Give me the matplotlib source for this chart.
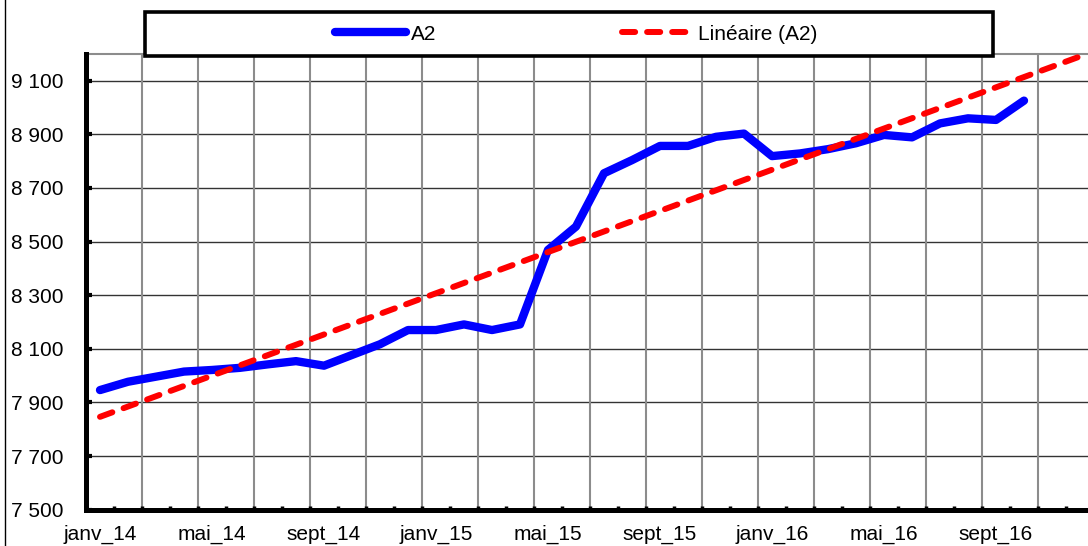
import numpy as np
import matplotlib.pyplot as plt
from matplotlib.lines import Line2D
from matplotlib.patches import Rectangle
from matplotlib.ticker import FuncFormatter

plt.rcParams['font.family'] = ['Liberation Sans', 'DejaVu Sans']

# Monthly values, janv_14 .. oct_16
mois = ['janv', 'févr', 'mars', 'avr', 'mai', 'juin',
        'juil', 'août', 'sept', 'oct', 'nov', 'déc']
annees = ['14', '15', '16']
categories = [m + '_' + a for a in annees for m in mois][:34]

a2 = [7946, 7977, 7996, 8015, 8021, 8029, 8042, 8054, 8037, 8077,
      8117, 8170, 8170, 8191, 8170, 8191, 8469, 8556, 8755, 8804,
      8857, 8857, 8891, 8903, 8819, 8829, 8845, 8867, 8898, 8889,
      8941, 8960, 8954, 9026]

x = np.arange(len(a2))

# Linear trend, projected two periods ahead
pente, origine = np.polyfit(x, a2, 1)
x_tend = np.arange(len(a2) + 2)
tendance = origine + pente * x_tend

W, H = 1088, 546
fig = plt.figure(figsize=(W / 100, H / 100), dpi=100)
ax = fig.add_axes([86 / W, (H - 509.6) / H, 1008 / W, (509.6 - 54) / H])

l_a2, = ax.plot(x, a2, color='#0000FF', lw=6, solid_capstyle='round',
                solid_joinstyle='round', label='A2', zorder=4)
l_tend, = ax.plot(x_tend, tendance, color='#FF0000', lw=4.3, dashes=(2.2, 2.0),
                  dash_capstyle='round', label='Linéaire (A2)', zorder=5)

ax.set_xlim(-0.5, 35.5)
ax.set_ylim(7500, 9200)

# y axis
ax.set_yticks(np.arange(7500, 9101, 200))
ax.yaxis.set_major_formatter(FuncFormatter(lambda v, p: f'{int(v):,}'.replace(',', ' ')))
ax.tick_params(axis='y', direction='in', length=4, width=3, pad=16,
               labelsize=15, colors='black')

# x axis: labels every 4 months, tick marks between months
ax.set_xticks(x[::4])
ax.set_xticklabels(categories[::4])
ax.set_xticks(np.arange(0.5, 35.5, 1), minor=True)
ax.tick_params(axis='x', which='major', length=0, pad=11, labelsize=15)
ax.tick_params(axis='x', which='minor', direction='in', length=3, width=2.5)

# grid
for v in np.arange(7700, 9101, 200):
    ax.axhline(v, color='#333333', lw=1.0, zorder=1)
for b in np.arange(1.5, 36, 2):
    ax.axvline(b, color='#8c8c8c', lw=1.5, zorder=1)

for s in ['left', 'bottom']:
    ax.spines[s].set_linewidth(3.6)
    ax.spines[s].set_color('black')
    ax.spines[s].set_zorder(6)
ax.spines['top'].set_color('#8c8c8c')
ax.spines['top'].set_linewidth(1.5)
ax.spines['right'].set_visible(False)

# legend box
fig.add_artist(Rectangle((145 / W, 1 - 56 / H), 848 / W, 44 / H,
                         transform=fig.transFigure, facecolor='white',
                         edgecolor='black', lw=2.6, zorder=3))
fig.legend(handles=[l_a2, l_tend], loc='center',
           bbox_to_anchor=(576 / W, 1 - 34 / H), ncol=2, frameon=False,
           fontsize=15, handlelength=3.4, handletextpad=0.25,
           columnspacing=8.9)

# outer chart border on the left
fig.add_artist(Line2D([5 / W, 5 / W], [0, 1], transform=fig.transFigure,
                      color='black', lw=1))

fig.savefig('out.png', dpi=100)
